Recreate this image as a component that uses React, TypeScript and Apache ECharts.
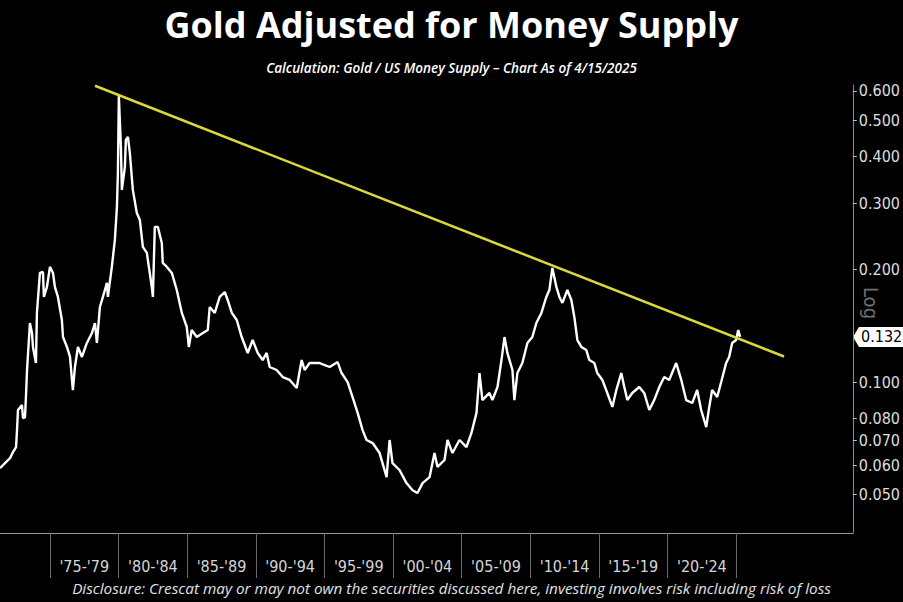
import { useEffect, useRef } from 'react'
import * as echarts from 'echarts'

// gold / US money supply (decimal years)
const YEARS = [
  1971.36, 1971.72, 1972.09, 1972.31, 1972.53, 1972.6, 1972.67, 1972.96, 1973.04, 1973.18,
  1973.25, 1973.33, 1973.54, 1973.69, 1973.76, 1973.98, 1974.05, 1974.27, 1974.49, 1974.56,
  1974.78, 1975.0, 1975.22, 1975.36, 1975.58, 1975.87, 1975.95, 1976.24, 1976.46, 1976.67,
  1976.82, 1977.04, 1977.33, 1977.69, 1978.06, 1978.28, 1978.42, 1978.64, 1978.86, 1979.15,
  1979.22, 1979.51, 1979.73, 1979.88, 1979.95, 1980.02, 1980.17, 1980.24, 1980.46, 1980.53,
  1980.68, 1980.82, 1981.04, 1981.33, 1981.55, 1981.77, 1982.06, 1982.42, 1982.5, 1982.64,
  1982.86, 1983.15, 1983.22, 1983.52, 1983.88, 1984.24, 1984.61, 1984.97, 1985.12, 1985.33,
  1985.7, 1986.14, 1986.5, 1986.64, 1987.01, 1987.37, 1987.74, 1987.95, 1988.25, 1988.61,
  1988.97, 1989.41, 1989.77, 1990.14, 1990.5, 1990.79, 1991.01, 1991.52, 1991.96, 1992.47,
  1992.98, 1993.34, 1993.56, 1993.92, 1994.65, 1995.38, 1995.96, 1996.25, 1996.69, 1997.05,
  1997.42, 1997.78, 1998.07, 1998.51, 1999.02, 1999.53, 1999.75, 1999.96, 2000.47, 2000.98,
  2001.42, 2001.78, 2002.15, 2002.66, 2003.02, 2003.24, 2003.75, 2003.97, 2004.33, 2004.84,
  2005.35, 2005.71, 2006.08, 2006.3, 2006.51, 2007.02, 2007.24, 2007.61, 2007.9, 2008.12,
  2008.33, 2008.7, 2008.84, 2009.06, 2009.42, 2009.79, 2010.15, 2010.44, 2010.81, 2011.17,
  2011.39, 2011.61, 2011.9, 2012.12, 2012.34, 2012.7, 2012.99, 2013.21, 2013.43, 2013.72,
  2014.08, 2014.3, 2014.67, 2014.88, 2015.25, 2015.61, 2015.98, 2016.27, 2016.63, 2016.85,
  2017.07, 2017.43, 2017.94, 2018.3, 2018.67, 2019.03, 2019.4, 2019.76, 2020.12, 2020.63,
  2021.0, 2021.36, 2021.8, 2022.16, 2022.45, 2022.82, 2023.04, 2023.25, 2023.62, 2023.91,
  2024.27, 2024.49, 2024.71, 2025.0, 2025.15, 2025.29,
]

const VALUES = [
  0.0589, 0.0607, 0.0626, 0.065, 0.067, 0.0744, 0.0842, 0.0868, 0.0801, 0.0806,
  0.0912, 0.1077, 0.1438, 0.1352, 0.1241, 0.1124, 0.153, 0.1957, 0.1969, 0.1688,
  0.1795, 0.2031, 0.1957, 0.1795, 0.1688, 0.1465, 0.1319, 0.1241, 0.1167, 0.0952,
  0.1097, 0.1241, 0.1167, 0.1272, 0.1352, 0.1438, 0.1272, 0.1587, 0.1688, 0.184,
  0.1688, 0.2031, 0.2398, 0.2937, 0.3621, 0.582, 0.425, 0.3262, 0.3758, 0.4437,
  0.4519, 0.4097, 0.3262, 0.2831, 0.2712, 0.2297, 0.2213, 0.1795, 0.1688, 0.2598,
  0.2598, 0.2353, 0.2082, 0.2031, 0.1957, 0.1762, 0.153, 0.1403, 0.1241, 0.1377,
  0.1319, 0.1352, 0.1377, 0.1587, 0.153, 0.1688, 0.174, 0.1657, 0.153, 0.1465,
  0.1319, 0.1196, 0.1295, 0.1196, 0.1145, 0.1196, 0.1097, 0.1077, 0.1031, 0.1013,
  0.0964, 0.1145, 0.1077, 0.1124, 0.1124, 0.1097, 0.1131, 0.1057, 0.1, 0.0912,
  0.0827, 0.0744, 0.07, 0.0687, 0.0646, 0.0557, 0.07, 0.0607, 0.0582, 0.0537,
  0.0514, 0.0505, 0.0537, 0.0557, 0.0646, 0.0593, 0.0619, 0.07, 0.0646, 0.07,
  0.067, 0.0731, 0.0827, 0.1057, 0.0895, 0.0935, 0.0895, 0.097, 0.1145, 0.1319,
  0.1196, 0.1077, 0.0895, 0.1057, 0.1124, 0.1272, 0.1319, 0.1438, 0.153, 0.1688,
  0.1762, 0.2018, 0.1795, 0.1688, 0.1627, 0.1762, 0.1657, 0.1492, 0.1295, 0.1241,
  0.1218, 0.1145, 0.1124, 0.1057, 0.1013, 0.0935, 0.0858, 0.0952, 0.1057, 0.097,
  0.0895, 0.0935, 0.097, 0.0935, 0.0842, 0.0895, 0.097, 0.1031, 0.1013, 0.1124,
  0.1013, 0.0895, 0.0879, 0.0952, 0.0842, 0.0758, 0.0858, 0.0952, 0.0912, 0.1,
  0.1124, 0.1167, 0.1272, 0.1295, 0.1377, 0.132,
]

// yellow resistance line, two ends
const TREND_YEARS = [1978.28, 2028.49]
const TREND_VALUES = [0.619, 0.117]

const LAST_VALUE = 0.132

const Y_TICKS = [0.05, 0.06, 0.07, 0.08, 0.1, 0.2, 0.3, 0.4, 0.5, 0.6]
const PERIOD_STARTS = [1975, 1980, 1985, 1990, 1995, 2000, 2005, 2010, 2015, 2020]
const PERIOD_LABELS = ["'75-'79", "'80-'84", "'85-'89", "'90-'94", "'95-'99", "'00-'04", "'05-'09", "'10-'14", "'15-'19", "'20-'24"]
const SEPARATORS = [1975, 1980, 1985, 1990, 1995, 2000, 2005, 2010, 2015, 2020, 2025]

const AXIS_FONT = '"DejaVu Sans Condensed", "DejaVu Sans", sans-serif'
const TEXT_FONT = '"Open Sans", sans-serif'

const lg = (v: number) => Math.log10(v)

export default function App() {
  const chartRef = useRef<HTMLDivElement>(null)

  useEffect(() => {
    if (!chartRef.current) return
    const chart = echarts.init(chartRef.current, null, { renderer: 'svg' })

    const option: echarts.EChartsOption = {
      animation: false,
      backgroundColor: '#000000',
      title: [
        {
          text: 'Gold Adjusted for Money Supply',
          left: 'center',
          top: 1,
          textStyle: { color: '#ffffff', fontSize: 36, fontWeight: 700, fontFamily: TEXT_FONT },
        },
        {
          text: 'Calculation: Gold / US Money Supply – Chart As of 4/15/2025',
          left: 'center',
          top: 56,
          textStyle: { color: '#ffffff', fontSize: 13.5, fontWeight: 600, fontStyle: 'italic', fontFamily: TEXT_FONT },
        },
        {
          text: 'Disclosure: Crescat may or may not own the securities discussed here, investing involves risk including risk of loss',
          left: 'center',
          top: 575,
          textStyle: { color: '#e2e2e2', fontSize: 15.3, fontWeight: 400, fontStyle: 'italic', fontFamily: TEXT_FONT },
        },
      ],
      grid: { left: 0, right: 49, top: 85, bottom: 69 },
      xAxis: {
        type: 'value',
        min: 1971.36,
        max: 2033.5,
        axisLine: { show: true, lineStyle: { color: '#9a9a9a', width: 1 } },
        axisTick: {
          show: true,
          customValues: SEPARATORS,
          length: 45,
          inside: false,
          lineStyle: { color: '#6a6a6a', width: 1 },
        },
        axisLabel: {
          customValues: PERIOD_STARTS.map((y) => y + 2.5),
          margin: 25,
          color: '#d6d6d6',
          fontSize: 16,
          fontFamily: AXIS_FONT,
          formatter: (v: number) => PERIOD_LABELS[Math.round((v - 1977.5) / 5)] ?? '',
        },
        splitLine: { show: false },
      },
      yAxis: {
        type: 'value',
        position: 'right',
        min: lg(0.0395),
        max: lg(0.622),
        axisLine: { show: true, lineStyle: { color: '#8a8a8a', width: 1 } },
        axisTick: {
          show: true,
          customValues: Y_TICKS.map(lg),
          length: 4,
          lineStyle: { color: '#bbbbbb' },
        },
        axisLabel: {
          customValues: Y_TICKS.map(lg),
          margin: 6,
          color: '#dddddd',
          fontSize: 16,
          fontFamily: AXIS_FONT,
          formatter: (v: number) => Math.pow(10, v).toFixed(3),
        },
        splitLine: { show: false },
      },
      series: [
        {
          name: 'Gold / M2',
          type: 'line',
          data: YEARS.map((y, i) => [y, lg(VALUES[i])]),
          showSymbol: false,
          lineStyle: { color: '#ffffff', width: 2.4 },
          z: 2,
        },
        {
          name: 'Trend',
          type: 'line',
          data: TREND_YEARS.map((y, i) => [y, lg(TREND_VALUES[i])]),
          showSymbol: false,
          lineStyle: { color: '#ddd83a', width: 2.5 },
          z: 3,
        },
      ],
    }

    chart.setOption(option)

    // last value tag and the "Log" marker on the right axis
    const tagY = chart.convertToPixel({ yAxisIndex: 0 }, lg(LAST_VALUE)) as number
    chart.setOption({
      graphic: [
        {
          type: 'polygon',
          shape: {
            points: [
              [853, tagY],
              [859, tagY - 10],
              [903, tagY - 10],
              [903, tagY + 10],
              [859, tagY + 10],
            ],
          },
          style: { fill: '#ffffff' },
        },
        {
          type: 'text',
          x: 861,
          y: tagY,
          style: {
            text: LAST_VALUE.toFixed(3),
            fill: '#000000',
            font: `16px ${AXIS_FONT}`,
            verticalAlign: 'middle',
          },
        },
        {
          type: 'text',
          x: 871,
          y: 303,
          rotation: -Math.PI / 2,
          style: {
            text: 'Log',
            fill: '#6f6f6f',
            font: `20px ${AXIS_FONT}`,
            align: 'center',
            verticalAlign: 'middle',
          },
        },
      ],
    })

    return () => chart.dispose()
  }, [])

  return (
    <div
      ref={chartRef}
      style={{ position: 'fixed', left: 0, top: 0, width: '903px', height: '602px', background: '#000' }}
    />
  )
}
